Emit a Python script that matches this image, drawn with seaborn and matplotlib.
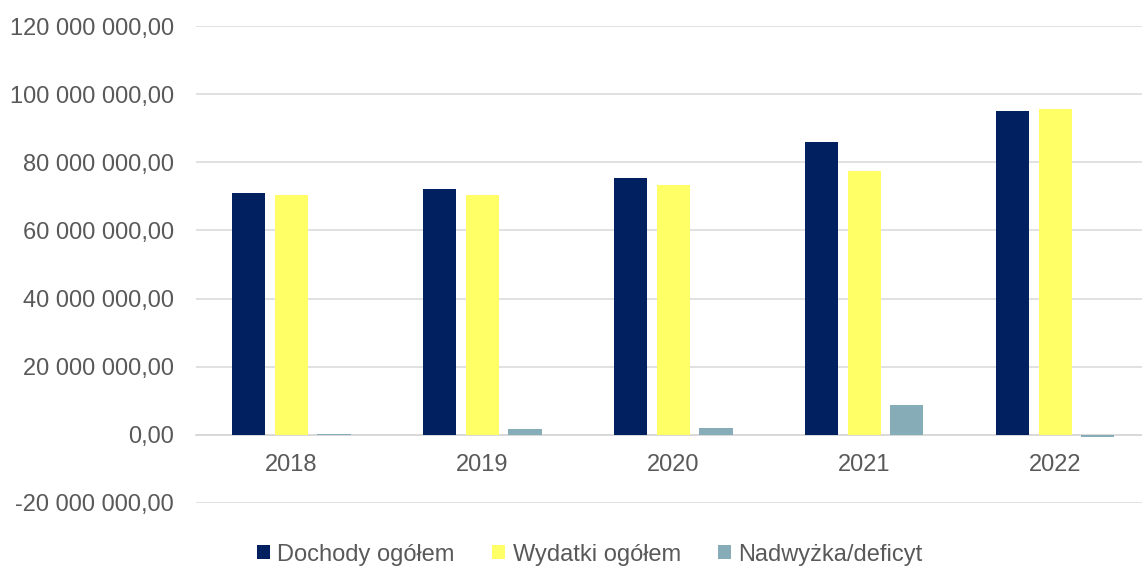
"""Dochody, wydatki i wynik budżetu w latach 2018-2022."""

import matplotlib
matplotlib.use("Agg")
import matplotlib.pyplot as plt
from matplotlib.patches import Patch
from matplotlib.ticker import FuncFormatter, MultipleLocator
import pandas as pd
import seaborn as sns

# Dane (w zł)
lata = ["2018", "2019", "2020", "2021", "2022"]
dochody = [70_900_000, 72_300_000, 75_300_000, 86_100_000, 95_100_000]
wydatki = [70_500_000, 70_400_000, 73_300_000, 77_400_000, 95_500_000]
nadwyzka = [300_000, 1_700_000, 1_900_000, 8_700_000, -500_000]
serie = ["Dochody ogółem", "Wydatki ogółem", "Nadwyżka/deficyt"]
kolory = ["#002060", "#FFFF66", "#86ADB7"]

df = pd.DataFrame({
    "rok": lata * 3,
    "seria": [serie[0]] * 5 + [serie[1]] * 5 + [serie[2]] * 5,
    "wartosc": dochody + wydatki + nadwyzka,
})

sns.set_style("white")
plt.rcParams["font.family"] = ["Liberation Sans", "DejaVu Sans"]
szary = "#595959"

fig = plt.figure(figsize=(11.42, 5.66), dpi=100)
ax = fig.add_axes([196 / 1142, 1 - 503 / 566, 1 - 196 / 1142, (503 - 26) / 566])

sns.barplot(data=df, x="rok", y="wartosc", hue="seria", palette=kolory,
            saturation=1, width=0.67, gap=0.22, linewidth=0,
            legend=False, ax=ax, zorder=3)

ax.set_ylim(-20_000_000, 120_000_000)
ax.set_xlim(-0.5, 4.5 - 8.6 / 190.8)
ax.yaxis.set_major_locator(MultipleLocator(20_000_000))
ax.yaxis.set_major_formatter(FuncFormatter(
    lambda v, _: f"{v:,.2f}".replace(",", " ").replace(".", ",")))
ax.grid(axis="y", color="#D9D9D9", linewidth=1.1, zorder=0)
ax.grid(axis="x", visible=False)

for s in ["top", "right", "left"]:
    ax.spines[s].set_visible(False)
ax.spines["bottom"].set_position(("data", 0))
ax.spines["bottom"].set_color("#D9D9D9")
ax.spines["bottom"].set_linewidth(1.3)

ax.tick_params(axis="y", length=0, pad=16, labelsize=17, labelcolor=szary)
ax.tick_params(axis="x", length=0, pad=14, labelsize=17, labelcolor=szary)
ax.set_xlabel("")
ax.set_ylabel("")

uchwyty = [Patch(facecolor=k, edgecolor="none", label=s) for k, s in zip(kolory, serie)]
leg = fig.legend(handles=uchwyty, loc="center", bbox_to_anchor=(590 / 1142, 0.02),
                 ncol=3, frameon=False, fontsize=17, handlelength=0.55,
                 handleheight=0.55, handletextpad=0.3, columnspacing=1.6,
                 borderpad=0)
for t in leg.get_texts():
    t.set_color(szary)

fig.savefig("out.png", dpi=100)
